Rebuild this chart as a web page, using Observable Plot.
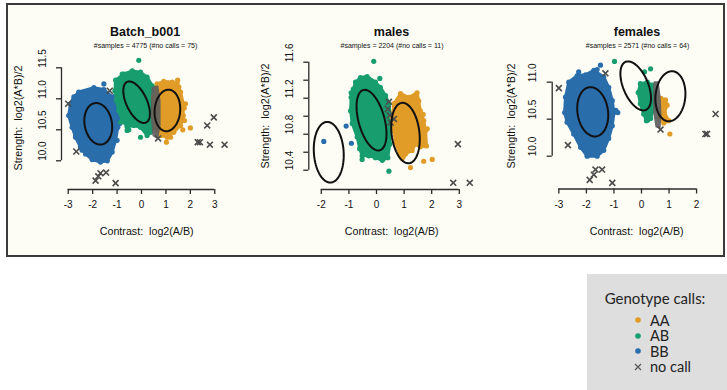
<!DOCTYPE html>
<html><head><meta charset="utf-8">
<script src="https://cdn.jsdelivr.net/npm/d3@7"></script>
<script src="https://cdn.jsdelivr.net/npm/@observablehq/plot@0.6"></script>
<style>
body{margin:0;background:#fff;font-family:"Liberation Sans",Arial,sans-serif;}
#root{position:relative;width:727px;height:390px;overflow:hidden;}
#frame{position:absolute;left:6px;top:3px;width:715px;height:250px;border:2px solid #3a3a3a;background:#fdfdf6;}
.t{position:absolute;white-space:pre;color:#111;transform:translate(-50%,-50%);line-height:1;}
#root svg.panel{position:absolute;left:0;top:0;}
#legend{position:absolute;left:587px;top:274px;width:140px;height:116px;background:#dedede;font-family:Lato,"Liberation Sans",sans-serif;color:#222;}
</style></head>
<body><div id="root"><div id="frame"></div></div>
<script>
// ---------- texts ----------
const panelTitles = ["Batch_b001", "males", "females"];
const panelSubtitles = ["#samples = 4775 (#no calls = 75)", "#samples = 2204 (#no calls = 11)", "#samples = 2571 (#no calls = 64)"];
const xAxisTitle = "Contrast:  log2(A/B)";
const yAxisTitle = "Strength:  log2(A*B)/2";
const genotypes = ["AA", "AB", "BB"];
const legendTitle = "Genotype calls:";
const legendLabels = ["AA", "AB", "BB", "no call"];

// ---------- ticks ----------
const xTicks1 = [-3, -2, -1, 0, 1, 2, 3];
const yTicks1 = [10, 10.5, 11, 11.5];
const yTickLabels1 = ["10.0", "10.5", "11.0", "11.5"];
const xTicks2 = [-2, -1, 0, 1, 2, 3];
const yTicks2 = [10.4, 10.6, 10.8, 11.0, 11.2, 11.4, 11.6];
const yTickLabels2 = ["10.4", "", "10.8", "", "11.2", "", "11.6"];
const xTicks3 = [-3, -2, -1, 0, 1, 2];
const yTicks3 = [10, 10.5, 11];
const yTickLabels3 = ["10.0", "10.5", "11.0"];

// ---------- panel 1: Batch_b001 (cluster outlines + scattered points) ----------
const p1HullBB = [[-2.57,11.11],[-1.95,11.18],[-1.54,11.15],[-1.20,11.03],[-1.02,10.86],[-0.93,10.73],[-0.97,10.54],[-1.06,10.33],[-1.20,10.14],[-1.40,10.00],[-1.68,9.98],[-2.02,10.02],[-2.29,10.11],[-2.50,10.22],[-2.70,10.38],[-2.84,10.54],[-2.98,10.73],[-2.91,10.92],[-2.77,11.03]];
const p1HullAB = [[-1.06,11.30],[-0.72,11.40],[-0.38,11.45],[-0.04,11.43],[0.23,11.35],[0.44,11.21],[0.53,11.08],[0.53,10.86],[0.48,10.65],[0.37,10.46],[0.23,10.41],[-0.04,10.54],[-0.32,10.57],[-0.59,10.55],[-0.79,10.65],[-0.93,10.81],[-1.02,10.97],[-1.09,11.13]];
const p1HullAA = [[0.64,11.24],[0.91,11.28],[1.26,11.27],[1.46,11.24],[1.60,11.11],[1.71,10.92],[1.71,10.73],[1.60,10.57],[1.32,10.46],[1.05,10.38],[0.78,10.41],[0.57,10.52],[0.50,10.76],[0.50,11.03]];
const p1HullNC = [[0.45,11.18],[0.65,11.20],[0.74,10.97],[0.74,10.57],[0.65,10.37],[0.49,10.41],[0.43,10.65],[0.43,10.97]];
const p1DotsBB = [[-1.54,11.24],[-2.84,10.65],[-0.89,10.60],[-1.68,10.00],[-2.57,11.00],[-0.93,10.78],[-1.95,10.03],[-2.88,10.69],[-2.50,11.00],[-1.06,11.05],[-0.86,10.65],[-1.00,10.33],[-1.34,10.09],[-1.81,10.03],[-2.43,10.17],[-2.70,10.41]];
const p1DotsAB = [[-0.11,11.62],[-0.52,10.50],[-0.85,10.62],[-0.79,11.40],[-0.59,10.49],[-0.04,10.38],[0.37,10.52],[-0.86,10.97]];
const p1DotsAA = [[2.00,10.53],[1.02,10.30],[1.69,10.50],[1.48,11.30],[1.75,10.85],[1.53,11.19],[1.80,10.92],[1.76,10.65],[1.19,10.38],[0.78,10.44]];
const p1NoCall = [[-3.00,10.92],[-2.67,10.15],[-1.30,11.13],[0.68,10.36],[2.96,10.70],[2.69,10.57],[2.30,10.30],[2.39,10.30],[2.80,10.26],[3.40,10.26],[-1.88,9.68],[-1.77,9.75],[-1.68,9.80],[-1.45,9.81],[-1.06,9.64]];
const p1Ellipses = [
  {g: "BB", cx: -1.77, cy: 10.597, rx: 0.57, ry: 0.335, rho: -0.15},
  {g: "AB", cx: -0.20, cy: 10.945, rx: 0.545, ry: 0.335, rho: -0.55},
  {g: "AA", cx: 1.06, cy: 10.812, rx: 0.525, ry: 0.335, rho: 0.08}
];

// ---------- panel 2: males ----------
const p2HullBB = [];
const p2HullAB = [[-0.76,11.38],[-0.58,11.43],[-0.34,11.44],[-0.04,11.38],[0.14,11.32],[0.33,11.23],[0.45,11.14],[0.51,10.99],[0.53,10.84],[0.48,10.69],[0.41,10.54],[0.21,10.51],[-0.04,10.54],[-0.28,10.56],[-0.52,10.56],[-0.61,10.64],[-0.70,10.77],[-0.88,10.92],[-0.94,11.06],[-0.92,11.21],[-0.84,11.30]];
const p2HullAA = [[0.63,11.14],[0.87,11.25],[1.17,11.21],[1.47,11.26],[1.53,11.17],[1.59,11.06],[1.71,10.95],[1.78,10.84],[1.81,10.67],[1.59,10.66],[1.41,10.69],[1.29,10.62],[1.05,10.58],[0.93,10.53],[0.84,10.58],[0.69,10.71],[0.63,10.84],[0.57,10.99]];
const p2HullNC = [];
const p2DotsBB = [[-1.91,10.72],[-1.10,10.89],[-0.91,10.70]];
const p2DotsAB = [[-0.10,11.61],[0.12,11.42],[-0.52,10.52],[0.45,10.39],[-0.92,11.26]];
const p2DotsAA = [[1.23,10.43],[1.71,10.50],[2.02,10.52],[0.97,10.55],[1.84,10.86],[1.69,11.02]];
const p2NoCall = [[0.45,11.16],[0.41,11.08],[0.48,11.01],[0.63,10.97],[0.51,10.93],[2.95,10.69],[2.78,10.26],[3.38,10.26]];
const p2Ellipses = [
  {g: "BB", cx: -1.73, cy: 10.60, rx: 0.543, ry: 0.337, rho: -0.1},
  {g: "AB", cx: -0.18, cy: 10.956, rx: 0.543, ry: 0.337, rho: -0.45},
  {g: "AA", cx: 1.05, cy: 10.813, rx: 0.518, ry: 0.336, rho: -0.2}
];

// ---------- panel 3: females ----------
const p3HullBB = [[-2.64,11.00],[-2.33,11.09],[-2.03,11.10],[-1.73,11.16],[-1.37,11.07],[-1.19,10.93],[-1.06,10.75],[-1.00,10.59],[-1.06,10.41],[-1.19,10.24],[-1.37,10.08],[-1.61,10.00],[-1.97,10.00],[-2.21,10.12],[-2.46,10.30],[-2.70,10.46],[-2.79,10.59],[-2.76,10.80]];
const p3HullAB = [[-0.04,10.98],[0.21,11.00],[0.39,10.96],[0.45,10.80],[0.42,10.62],[0.33,10.51],[0.18,10.48],[0.08,10.57],[-0.04,10.71],[-0.12,10.86]];
const p3HullAA = [[0.71,10.78],[0.87,10.76],[0.93,10.69],[0.83,10.59],[0.99,10.48],[0.81,10.45],[0.66,10.53]];
const p3HullNC = [[0.47,11.00],[0.59,11.00],[0.66,10.80],[0.69,10.57],[0.66,10.39],[0.54,10.40],[0.47,10.57],[0.45,10.80]];
const p3DotsBB = [[-1.49,11.23],[-0.86,10.59],[-1.97,10.01],[-2.28,11.14],[-1.61,11.17],[-0.93,10.62]];
const p3DotsAB = [[-0.98,11.28],[0.33,11.18],[0.11,11.14],[0.23,10.49]];
const p3DotsAA = [[1.03,10.30]];
const p3NoCall = [[-3.00,10.92],[-1.31,11.12],[-2.67,10.15],[0.69,10.36],[-1.67,9.82],[-1.43,9.82],[-1.73,9.75],[-1.88,9.68],[-1.06,9.64],[2.69,10.57],[2.32,10.30],[2.38,10.30]];
const p3Ellipses = [
  {g: "BB", cx: -1.77, cy: 10.60, rx: 0.563, ry: 0.333, rho: -0.14},
  {g: "AB", cx: -0.21, cy: 10.95, rx: 0.556, ry: 0.331, rho: -0.5},
  {g: "AA", cx: 1.05, cy: 10.81, rx: 0.545, ry: 0.338, rho: 0.1}
];

// ---------- styles / layout ----------
const genotypeColors = {AA: "#e19c28", AB: "#179d6e", BB: "#2a6dab"};
const noCallColor = "#4b4b4b";
const bandColor = "#5e5e5e";
const axisColor = "#2a2a2a";

const panels = [
  {title: panelTitles[0], sub: panelSubtitles[0], xt: xTicks1, yt: yTicks1, yl: yTickLabels1,
   hulls: {BB: p1HullBB, AB: p1HullAB, AA: p1HullAA}, nc: p1HullNC,
   dots: {BB: p1DotsBB, AB: p1DotsAB, AA: p1DotsAA}, noCall: p1NoCall, ell: p1Ellipses,
   ml: 61, mr: 495, mt: 50, mb: 71, xd: [-3.275, 3.725], yd: [9.537, 11.779],
   cx: 145, xlx: 146.7, ylx: 18, yly: 118},
  {title: panelTitles[1], sub: panelSubtitles[1], xt: xTicks2, yt: yTicks2, yl: yTickLabels2,
   hulls: {BB: p2HullBB, AB: p2HullAB, AA: p2HullAA}, nc: p2HullNC,
   dots: {BB: p2DotsBB, AB: p2DotsAB, AA: p2DotsAA}, noCall: p2NoCall, ell: p2Ellipses,
   ml: 308.3, mr: 257, mt: 50, mb: 71, xd: [-2.453, 3.406], yd: [10.186, 11.73],
   cx: 391.5, xlx: 391.7, ylx: 265, yly: 116},
  {title: panelTitles[2], sub: panelSubtitles[2], xt: xTicks3, yt: yTicks3, yl: yTickLabels3,
   hulls: {BB: p3HullBB, AB: p3HullAB, AA: p3HullAA}, nc: p3HullNC,
   dots: {BB: p3DotsBB, AB: p3DotsAB, AA: p3DotsAA}, noCall: p3NoCall, ell: p3Ellipses,
   ml: 551.7, mr: 7, mt: 50, mb: 71.5, xd: [-3.241, 2.868], yd: [9.557, 11.428],
   cx: 637, xlx: 636.7, ylx: 510.7, yly: 116}
];

function ellipsePoints(list) {
  const out = [];
  list.forEach((e, i) => {
    const s = Math.sqrt(1 - e.rho * e.rho);
    for (let k = 0; k < 72; k++) {
      const t = (k / 72) * 2 * Math.PI;
      out.push({id: i, x: e.cx + e.rx * Math.cos(t), y: e.cy + e.ry * (e.rho * Math.cos(t) + s * Math.sin(t))});
    }
  });
  return out;
}

const root = document.getElementById("root");
function addText(txt, x, y, css, rotate) {
  const d = document.createElement("div");
  d.className = "t";
  d.textContent = txt;
  d.style.left = x + "px";
  d.style.top = y + "px";
  d.style.cssText += css;
  if (rotate) d.style.transform = "translate(-50%,-50%) rotate(-90deg)";
  root.appendChild(d);
}

panels.forEach(p => {
  const marks = [];
  for (const g of ["BB", "AB", "AA"]) {
    const h = p.hulls[g];
    if (h.length) {
      marks.push(Plot.line(h, {x: d => d[0], y: d => d[1], curve: "linear-closed", fill: genotypeColors[g], stroke: genotypeColors[g], strokeWidth: 3, strokeLinejoin: "round"}));
      marks.push(Plot.dot(h, {x: d => d[0], y: d => d[1], r: 2.6, fill: genotypeColors[g]}));
    }
    marks.push(Plot.dot(p.dots[g], {x: d => d[0], y: d => d[1], r: 2.6, fill: genotypeColors[g]}));
  }
  if (p.nc.length) {
    marks.push(Plot.line(p.nc, {x: d => d[0], y: d => d[1], curve: "linear-closed", fill: bandColor, stroke: bandColor, strokeWidth: 2, strokeLinejoin: "round", opacity: 0.92}));
  }
  marks.push(Plot.dot(p.noCall, {x: d => d[0], y: d => d[1], symbol: "times", r: 2.8, stroke: noCallColor, strokeWidth: 1.6}));
  marks.push(Plot.line(ellipsePoints(p.ell), {x: "x", y: "y", z: "id", curve: "linear-closed", stroke: "#111", strokeWidth: 2, fill: "none"}));
  // axes (R style)
  marks.push(Plot.ruleY([{y: p.yd[0], x1: p.xt[0], x2: p.xt[p.xt.length - 1]}], {y: "y", x1: "x1", x2: "x2", stroke: axisColor, strokeWidth: 1.3}));
  marks.push(Plot.ruleX([{x: p.xd[0], y1: p.yt[0], y2: p.yt[p.yt.length - 1]}], {x: "x", y1: "y1", y2: "y2", stroke: axisColor, strokeWidth: 1.3}));
  marks.push(Plot.axisX({ticks: p.xt, tickSize: 5, tickFormat: () => "", label: null, stroke: axisColor, strokeWidth: 1.3}));
  marks.push(Plot.axisY({ticks: p.yt, tickSize: 5, tickFormat: () => "", label: null, stroke: axisColor, strokeWidth: 1.3}));
  marks.push(Plot.text(p.xt, {x: d => d, text: d => String(d), frameAnchor: "bottom", dy: 18.5, fontSize: 10, fill: "#111"}));
  marks.push(Plot.text(p.yt.map((v, i) => ({v, s: p.yl[i]})).filter(d => d.s), {y: "v", text: "s", frameAnchor: "left", dx: -19, rotate: -90, fontSize: 10, fill: "#111"}));

  const svg = Plot.plot({
    width: 727, height: 260,
    marginLeft: p.ml, marginRight: p.mr, marginTop: p.mt, marginBottom: p.mb,
    x: {domain: p.xd}, y: {domain: p.yd},
    style: {background: "transparent", overflow: "visible", fontFamily: "'Liberation Sans', Arial, sans-serif"},
    marks
  });
  svg.classList.add("panel");
  root.appendChild(svg);

  addText(p.title, p.cx, 32, "font-weight:bold;font-size:12.5px;");
  addText(p.sub, p.cx + 0.5, 44.5, "font-size:7px;");
  addText(xAxisTitle, p.xlx, 230.5, "font-size:10.7px;");
  addText(yAxisTitle, p.ylx, p.yly, "font-size:10.8px;", true);
});

// ---------- legend ----------
const legend = document.createElement("div");
legend.id = "legend";
root.appendChild(legend);
const lt = document.createElement("div");
lt.textContent = legendTitle;
lt.style.cssText = "position:absolute;left:0;width:136px;text-align:center;top:15px;font-size:15px;";
legend.appendChild(lt);
const legendColors = [genotypeColors.AA, genotypeColors.AB, genotypeColors.BB, null];
legendLabels.forEach((lab, i) => {
  const row = document.createElement("div");
  row.style.cssText = `position:absolute;left:45px;top:${38 + i * 15.5}px;height:16px;display:flex;align-items:center;font-size:14.5px;`;
  const sym = legendColors[i]
    ? `<svg width="12" height="12" style="margin-right:6px"><circle cx="6" cy="6" r="2.8" fill="${legendColors[i]}"/></svg>`
    : `<svg width="12" height="12" style="margin-right:6px"><path d="M3,3L9,9M9,3L3,9" stroke="#555" stroke-width="1.2"/></svg>`;
  row.innerHTML = sym + `<span>${lab}</span>`;
  legend.appendChild(row);
});
</script>
</body></html>
